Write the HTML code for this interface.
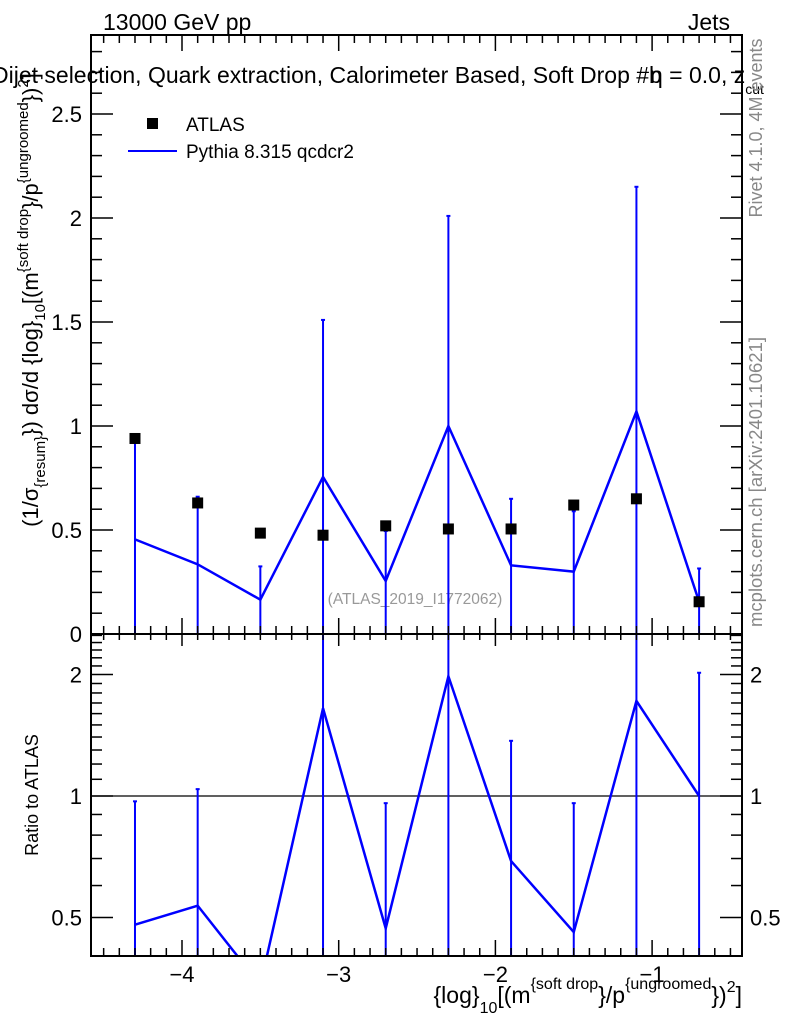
<!DOCTYPE html>
<html><head><meta charset="utf-8"><style>
html,body{margin:0;padding:0;background:#fff;}
svg{display:block;font-family:"Liberation Sans",sans-serif;}
</style></head><body>
<svg id="chart" width="786" height="1024" viewBox="0 0 786 1024" xmlns="http://www.w3.org/2000/svg">
<text x="103" y="30" font-size="23">13000 GeV pp</text>
<text x="730" y="30" font-size="23" text-anchor="end">Jets</text>
<text x="-8" y="83" font-size="23">Dijet selection, Quark extraction, Calorimeter Based, Soft Drop #b</text>
<text x="650" y="83" font-size="23">η = 0.0, z<tspan font-size="14" dy="11">cut</tspan></text>
<text transform="translate(762,128) rotate(-90)" font-size="18" fill="#888" text-anchor="middle">Rivet 4.1.0,  4M events</text>
<text transform="translate(762,482) rotate(-90)" font-size="18.5" fill="#888" text-anchor="middle">mcplots.cern.ch [arXiv:2401.10621]</text>
<text x="415" y="604" font-size="15.5" fill="#999" text-anchor="middle">(ATLAS_2019_I1772062)</text>
<text transform="translate(38,300) rotate(-90)" font-size="22" text-anchor="middle">(1/σ<tspan font-size="15" dy="7">{resum}</tspan><tspan dy="-7">}) dσ/d {log}</tspan><tspan font-size="15" dy="7">10</tspan><tspan dy="-7">[(m</tspan><tspan font-size="15" dy="-10">{soft drop</tspan><tspan dy="10">}/p</tspan><tspan font-size="15" dy="-10">{ungroomed</tspan><tspan dy="10">})</tspan><tspan font-size="15" dy="-10">2</tspan><tspan dy="10">]</tspan></text>
<text transform="translate(38,795) rotate(-90)" font-size="18" text-anchor="middle">Ratio to ATLAS</text>
<text x="742" y="1003" font-size="23" text-anchor="end">{log}<tspan font-size="16" dy="10">10</tspan><tspan dy="-10">[(m</tspan><tspan font-size="16" dy="-14">{soft drop</tspan><tspan dy="14">}/p</tspan><tspan font-size="16" dy="-14">{ungroomed</tspan><tspan dy="14">})</tspan><tspan font-size="16" dy="-11">2</tspan><tspan dy="11">]</tspan></text>
<g id="legend">
<rect x="147" y="118" width="11" height="11" fill="#000"/>
<text x="186" y="131" font-size="19">ATLAS</text>
<line x1="128" y1="151" x2="177" y2="151" stroke="#0000ff" stroke-width="2"/>
<text x="186" y="158" font-size="19">Pythia 8.315 qcdcr2</text>
</g>
<g id="marks"></g>
<g id="axes"></g>
</svg>
<script>
const xCenters=[-4.3,-3.9,-3.5,-3.1,-2.7,-2.3,-1.9,-1.5,-1.1,-0.7];
const atlasValues=[0.94,0.63,0.485,0.475,0.52,0.505,0.505,0.62,0.65,0.155];
const pythiaValues=[0.455,0.335,0.165,0.755,0.255,1.0,0.33,0.30,1.07,0.155];
const pythiaErrUp=[0.465,0.325,0.16,0.755,0.24,1.01,0.32,0.29,1.08,0.16];
const ratioValues=[0.48,0.535,0.34,1.65,0.47,1.98,0.69,0.46,1.72,1.0];
const ratioErrTop=[0.97,1.04,0.36,3.2,0.96,4.0,1.37,0.96,3.45,2.02];
const mainYTicks=[0,0.5,1,1.5,2,2.5];
const mainYLabels=["0","0.5","1","1.5","2","2.5"];
const ratioYTicks=[0.5,1,2];
const ratioYLabels=["0.5","1","2"];
const xTicks=[-4,-3,-2,-1];
const xLabels=["\u22124","\u22123","\u22122","\u22121"];

const L=91,R=742,T=35,MB=634,RB=956;
const NS="http://www.w3.org/2000/svg";
const X=v=>182+(v+4)*156.7;
const Y=v=>MB-208*v;
const YR=v=>796-121.5*Math.log2(v);
const marks=document.getElementById('marks'),axes=document.getElementById('axes');
function mk(tag,attrs,parent){const e=document.createElementNS(NS,tag);for(const k in attrs)e.setAttribute(k,attrs[k]);parent.appendChild(e);return e;}
const clampM=y=>Math.max(T,Math.min(MB,y));
const clampR=y=>Math.max(MB,Math.min(RB,y));

for(let i=0;i<xCenters.length;i++){
  const x=X(xCenters[i]);
  const yt=clampM(Y(pythiaValues[i]+pythiaErrUp[i]));
  const e=mk('line',{x1:x,x2:x,y1:MB,y2:yt,stroke:'#0000ff','stroke-width':2},marks);
  
  
  const c=mk('line',{x1:x-2,x2:x+2,y1:yt,y2:yt,stroke:'#0000ff','stroke-width':2},marks);
  
  
}
const pl=mk('polyline',{points:xCenters.map((v,i)=>X(v)+','+Y(pythiaValues[i])).join(' '),fill:'none',stroke:'#0000ff','stroke-width':2.5},marks);


for(let i=0;i<xCenters.length;i++){
  const r=mk('rect',{x:X(xCenters[i])-5.5,y:Y(atlasValues[i])-5.5,width:11,height:11,fill:'#000'},marks);
  
  
}
const cp=mk('clipPath',{id:'rclip'},marks);mk('rect',{x:L,y:MB,width:R-L,height:RB-MB},cp);
const rg=mk('g',{'clip-path':'url(#rclip)'},marks);
const one=mk('line',{x1:L,x2:R,y1:YR(1),y2:YR(1),stroke:'#000','stroke-width':1.2},rg);


for(let i=0;i<xCenters.length;i++){
  if(YR(ratioErrTop[i])>RB)continue;
  const x=X(xCenters[i]);const yt=clampR(YR(ratioErrTop[i]));
  const e=mk('line',{x1:x,x2:x,y1:RB,y2:yt,stroke:'#0000ff','stroke-width':2},rg);
  
  
  const c=mk('line',{x1:x-2,x2:x+2,y1:yt,y2:yt,stroke:'#0000ff','stroke-width':2},rg);
  
  
}
const rl=mk('polyline',{points:xCenters.map((v,i)=>X(v)+','+YR(ratioValues[i])).join(' '),fill:'none',stroke:'#0000ff','stroke-width':2.5},rg);



for(const [y1,y2,n] of [[T,MB,'main-frame'],[MB,RB,'ratio-frame']]){
  const f=mk('rect',{x:L,y:y1,width:R-L,height:y2-y1,fill:'none',stroke:'#000','stroke-width':2},axes);
  
  
}
function tick(x1,y1,x2,y2){mk('line',{x1,y1,x2,y2,stroke:'#000','stroke-width':1.5},axes);}
for(let k=-46;k<=-5;k++){
  const v=k/10,x=X(v);if(x<L||x>R)continue;
  const maj=k%10===0;const l=maj?16:8;
  tick(x,T,x,T+l);tick(x,MB,x,MB-l);tick(x,MB,x,MB+(maj?12:6));tick(x,RB,x,RB-l);
}
xTicks.forEach((v,i)=>{const t=mk('text',{x:X(v),y:982,'font-size':22,'text-anchor':'middle'},axes);t.textContent=xLabels[i];

});
for(let k=1;k<=28;k++){const y=Y(k/10);const maj=k%5===0;const l=maj?22:11;tick(L,y,L+l,y);tick(R,y,R-l,y);}
mainYTicks.forEach((v,i)=>{const t=mk('text',{x:82,y:Y(v)+8,'font-size':22,'text-anchor':'end'},axes);t.textContent=mainYLabels[i];

});
const rmin=[0.4,0.6,0.7,0.8,0.9,1.1,1.2,1.3,1.4,1.5,1.6,1.7,1.8,1.9,2.1,2.2,2.3,2.4,2.5];
rmin.forEach(v=>{const y=YR(v);if(y<MB||y>RB)return;tick(L,y,L+11,y);tick(R,y,R-11,y);});
ratioYTicks.forEach((v,i)=>{const y=YR(v);tick(L,y,L+22,y);tick(R,y,R-22,y);
const t=mk('text',{x:82,y:y+8,'font-size':22,'text-anchor':'end'},axes);t.textContent=ratioYLabels[i];


const t2=mk('text',{x:750,y:y+8,'font-size':22},axes);t2.textContent=ratioYLabels[i];

});
</script>
</body></html>
